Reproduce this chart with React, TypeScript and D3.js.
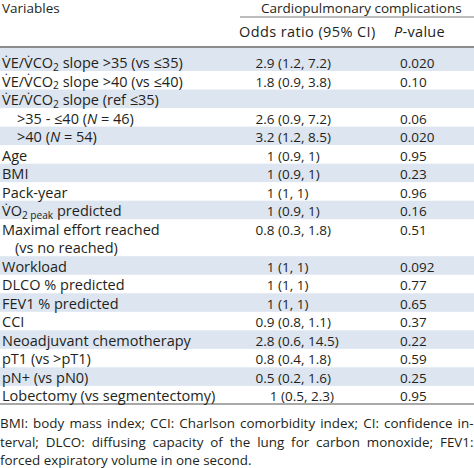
import React, { useEffect, useRef } from 'react';
import * as d3 from 'd3';

const W = 474;
const H = 468;

// ---- data ----
const headerVariables = 'Variables';
const headerGroup = 'Cardiopulmonary complications';
const headerOR = 'Odds ratio (95% CI)';
const headerP = '*P*-value';

const variables = [
  'V\u0307E/V\u0307CO_{2} slope >35 (vs ≤35)',
  'V\u0307E/V\u0307CO_{2} slope >40 (vs ≤40)',
  'V\u0307E/V\u0307CO_{2} slope (ref ≤35)',
  '>35 - ≤40 (*N* = 46)',
  '>40 (*N* = 54)',
  'Age',
  'BMI',
  'Pack-year',
  'V\u0307O_{2 peak} predicted',
  'Maximal effort reached\n(vs no reached)',
  'Workload',
  'DLCO % predicted',
  'FEV1 % predicted',
  'CCI',
  'Neoadjuvant chemotherapy',
  'pT1 (vs >pT1)',
  'pN+ (vs pN0)',
  'Lobectomy (vs segmentectomy)',
];
const variableLevel = [0, 0, 0, 1, 1, 0, 0, 0, 0, 0, 0, 0, 0, 0, 0, 0, 0, 0];

const orEstimates = ['2.9', '1.8', '', '2.6', '3.2', '1', '1', '1', '1', '0.8', '1', '1', '1', '0.9', '2.8', '0.8', '0.5', '1'];
const ciLower = ['1.2', '0.9', '', '0.9', '1.2', '0.9', '0.9', '1', '0.9', '0.3', '1', '1', '1', '0.8', '0.6', '0.4', '0.2', '0.5'];
const ciUpper = ['7.2', '3.8', '', '7.2', '8.5', '1', '1', '1', '1', '1.8', '1', '1', '1', '1.1', '14.5', '1.8', '1.6', '2.3'];
const pValues = ['0.020', '0.10', '', '0.06', '0.020', '0.95', '0.23', '0.96', '0.16', '0.51', '0.092', '0.77', '0.65', '0.37', '0.22', '0.59', '0.25', '0.95'];

const footnoteLines = [
  'BMI: body mass index; CCI: Charlson comorbidity index; CI: confidence in-',
  'terval; DLCO: diffusing capacity of the lung for carbon monoxide; FEV1:',
  'forced expiratory volume in one second.',
];

// ---- styles ----
const FONT = "'Open Sans', 'Noto Sans', sans-serif";
const FS_LABEL = 14.5;
const FS_NUM = 13.5;
const TEXT = '#231f20';
const SHADE = '#dde5f0';
const RULE = '#8c8c8c';

type Seg = { t: string; sub?: boolean; it?: boolean };
function parse(s: string): Seg[] {
  const parts = s.split(/(_\{[^}]*\}|\*[^*]*\*)/).filter((p) => p.length);
  return parts.map((p) => {
    if (p.startsWith('_{')) return { t: p.slice(2, -1), sub: true };
    if (p.startsWith('*') && p.endsWith('*') && p.length > 1) return { t: p.slice(1, -1), it: true };
    return { t: p };
  });
}

function rich(sel: d3.Selection<SVGTextElement, unknown, null, undefined>, s: string, fs: number) {
  let shifted = false;
  parse(s).forEach((seg) => {
    const ts = sel.append('tspan').text(seg.t);
    if (seg.sub) {
      ts.attr('font-size', fs * 0.7).attr('dy', 2.5);
      shifted = true;
    } else if (shifted) {
      ts.attr('dy', -2.5);
      shifted = false;
    }
    if (seg.it) ts.attr('font-style', 'italic');
  });
  return sel;
}

export default function App() {
  const ref = useRef<SVGSVGElement>(null);

  useEffect(() => {
    const svg = d3.select(ref.current!);
    svg.selectAll('*').remove();

    const lineCounts = variables.map((v) => v.split('\n').length);
    const starts: number[] = [];
    lineCounts.reduce((acc, n, i) => {
      starts[i] = acc;
      return acc + n;
    }, 0);
    const totalLines = d3.sum(lineCounts);

    const y = d3.scaleLinear().domain([0, totalLines]).range([52.5, 52.5 + 18.52 * totalLines]);
    const baseOff = 15.6;

    // shading
    variables.forEach((_, i) => {
      if (i % 2 !== 0) return;
      const top = i === 0 ? 48 : y(starts[i]);
      const bot = y(starts[i] + lineCounts[i]);
      svg.append('rect').attr('x', 0).attr('y', top).attr('width', W).attr('height', bot - top).attr('fill', SHADE);
    });

    // rules
    svg.append('line').attr('x1', 240).attr('x2', W).attr('y1', 17).attr('y2', 17).attr('stroke', '#7a7a7a').attr('stroke-width', 1);
    svg.append('line').attr('x1', 0).attr('x2', W).attr('y1', 47).attr('y2', 47).attr('stroke', RULE).attr('stroke-width', 2);
    svg.append('line').attr('x1', 0).attr('x2', W).attr('y1', 404).attr('y2', 404).attr('stroke', RULE).attr('stroke-width', 1.5);

    const txt = (x: number, yy: number, fs: number, anchor = 'start') =>
      svg
        .append('text')
        .attr('x', x)
        .attr('y', yy)
        .attr('text-anchor', anchor)
        .attr('font-family', FONT)
        .attr('font-size', fs)
        .attr('fill', TEXT);

    // header
    rich(txt(2, 13, 13.5), headerVariables, 13.5);
    rich(txt(261, 13, 13.5), headerGroup, 13.5);
    rich(txt(239, 37, 14.5), headerOR, 14.5).attr('letter-spacing', 0.4);
    rich(txt(394, 37, 14.5), headerP, 14.5).attr('letter-spacing', 0.3);

    // rows
    variables.forEach((v, i) => {
      const lines = v.split('\n');
      lines.forEach((ln, k) => {
        const indent = variableLevel[i] > 0 ? 17 : k > 0 ? 15 : 2;
        rich(txt(indent, y(starts[i] + k) + baseOff, FS_LABEL), ln, FS_LABEL);
      });
      const by = y(starts[i]) + baseOff;
      if (orEstimates[i]) {
        if (i === variables.length - 1) {
          txt(334, by, FS_NUM, 'end').text(`${orEstimates[i]} (${ciLower[i]}, ${ciUpper[i]})`);
        } else {
          txt(274.5, by, FS_NUM, 'end').text(orEstimates[i]);
          txt(278, by, FS_NUM).text(`(${ciLower[i]}, ${ciUpper[i]})`);
        }
      }
      if (pValues[i]) txt(400, by, FS_NUM).text(pValues[i]);
    });

    // footnote
    const fBase = [428, 446.5, 465];
    footnoteLines.forEach((ln, k) => {
      const t = txt(0, fBase[k], 13.4).text(ln);
      if (k < footnoteLines.length - 1) {
        const len = (t.node() as SVGTextElement).getComputedTextLength();
        const spaces = (ln.match(/ /g) || []).length;
        if (spaces > 0) t.attr('word-spacing', (W - 0.5 - len) / spaces);
      }
    });
  }, []);

  return (
    <svg
      ref={ref}
      width={W}
      height={H}
      style={{ position: 'absolute', left: 0, top: 0, background: '#fff' }}
    />
  );
}
